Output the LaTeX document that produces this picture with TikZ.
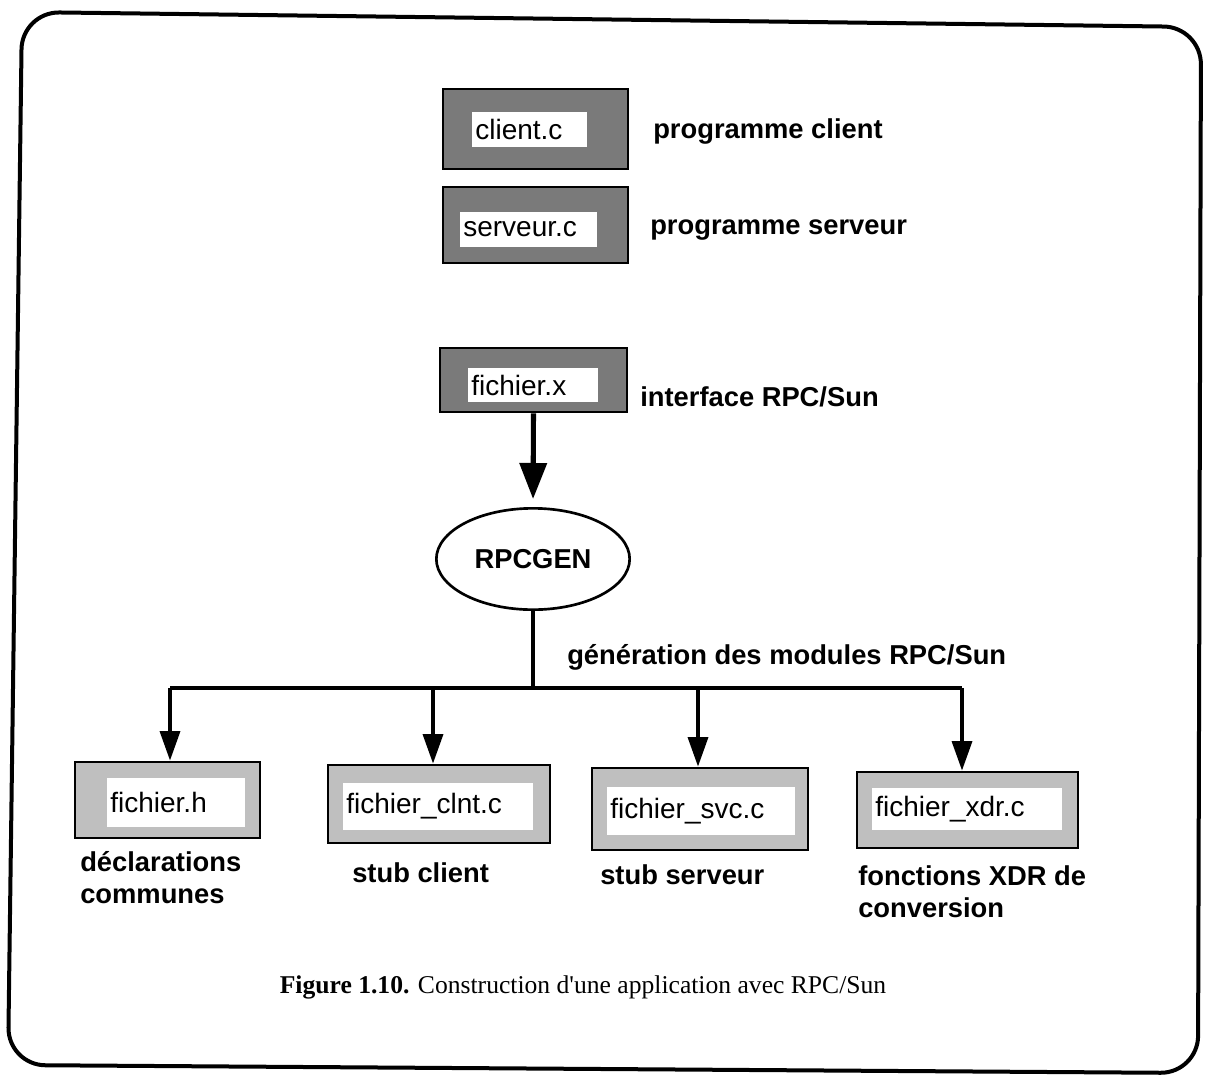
\documentclass[tikz,border=0pt]{standalone}
\usepackage{fontspec}
\setmainfont{Liberation Serif}
\setsansfont{Liberation Sans}
\newfontfamily\capfont{Liberation Serif}
\usetikzlibrary{arrows.meta,fit,shapes.geometric}
\begin{document}
\begin{tikzpicture}[x=0.75pt,y=-0.75pt,
  frame/.style={line width=3pt, rounded corners=28pt},
  darkbox/.style={draw, line width=2.2pt, fill=black!52, inner sep=0pt},
  lightbox/.style={draw, line width=2.2pt, fill=black!25, inner sep=0pt},
  whitebox/.style={fill=white, inner sep=0pt},
  ftext/.style={font=\sffamily\fontsize{21}{24}\selectfont, inner xsep=2.5pt, inner ysep=0pt, anchor=west},
  lbl/.style={font=\sffamily\bfseries\fontsize{20.5}{24}\selectfont, inner sep=0pt, anchor=west, align=left},
  conn/.style={line width=2.4pt},
  bigarrow/.style={line width=3.8pt, -{Triangle[length=27pt,width=20pt]}},
  smallarrow/.style={line width=2.4pt, -{Triangle[length=22pt,width=15pt]}},
]
\useasboundingbox (0,0) rectangle (1205,1077);
\draw[frame] (22,12) -- (1201,27) -- (1198,1073) -- (8,1065) -- cycle;

% top boxes
\node[darkbox, fit={(443,89) (628,169)}] (client) {};
\node[whitebox, fit={(472,112) (587,147)}] (clientw) {};
\node[ftext] (clientt) at (clientw.west) {client.c};
\node[lbl] (clientl) at (653,131) {programme client};

\node[darkbox, fit={(443,187) (628,263)}] (serv) {};
\node[whitebox, fit={(460,212) (597,247)}] (servw) {};
\node[ftext] (servt) at (servw.west) {serveur.c};
\node[lbl] (servl) at (650,230) {programme serveur};

\node[darkbox, fit={(440,348) (627,412)}] (fx) {};
\node[whitebox, fit={(468,368) (598,402)}] (fxw) {};
\node[ftext] (fxt) at (fxw.west) {fichier.x};
\node[lbl] (fxl) at (640,397) {interface RPC/Sun};

% RPCGEN
\node[draw, ellipse, line width=2pt, minimum width=145pt, minimum height=76pt,
      font=\sffamily\bfseries\fontsize{20.5}{24}\selectfont] (rpc) at (533,559) {RPCGEN};
\draw[bigarrow, shorten >=6pt] (fx.south) -- (rpc.north);

\node[lbl] (gen) at (567,657) {génération des modules RPC/Sun};

% bottom boxes
\node[lightbox, fit={(75,762) (260,838)}] (fh) {};
\node[whitebox, fit={(107,778) (245,827)}] (fhw) {};
\node[ftext] (fht) at (fhw.west) {fichier.h};

\node[lightbox, fit={(328,765) (550,843)}] (clnt) {};
\node[whitebox, fit={(343,783) (533,830)}] (clntw) {};
\node[ftext] (clntt) at (clntw.west) {fichier\_clnt.c};

\node[lightbox, fit={(592,768) (808,850)}] (svc) {};
\node[whitebox, fit={(607,787) (795,835)}] (svcw) {};
\node[ftext] (svct) at (svcw.west) {fichier\_svc.c};

\node[lightbox, fit={(857,772) (1078,848)}] (xdr) {};
\node[whitebox, fit={(872,788) (1062,830)}] (xdrw) {};
\node[ftext] (xdrt) at (xdrw.west) {fichier\_xdr.c};

% bus
\coordinate (a1) at (170,688);
\coordinate (a2) at (433,688);
\coordinate (a3) at (698,688);
\coordinate (a4) at (962,688);
\draw[conn] (rpc.south) -- (rpc.south |- a1);
\draw[conn] (a1) -- (a4);
\draw[smallarrow] (a1) -- (a1 |- fh.north);
\draw[smallarrow] (a2) -- (a2 |- clnt.north);
\draw[smallarrow] (a3) -- (a3 |- svc.north);
\draw[smallarrow] (a4) -- (a4 |- xdr.north);

% bottom labels
\node[lbl, anchor=north west] (fhl) at (80,851) {déclarations\\communes};
\node[lbl] (clntl) at (352,873) {stub client};
\node[lbl] (svcl) at (600,875) {stub serveur};
\node[lbl, anchor=north west] (xdrl) at (858,865) {fonctions XDR de\\conversion};

% caption
\node[font=\capfont\fontsize{19.2}{22}\selectfont, inner sep=0pt] (cap) at (583,987) {\textbf{Figure 1.10.} Construction d'une application avec RPC/Sun};
\end{tikzpicture}
\end{document}
